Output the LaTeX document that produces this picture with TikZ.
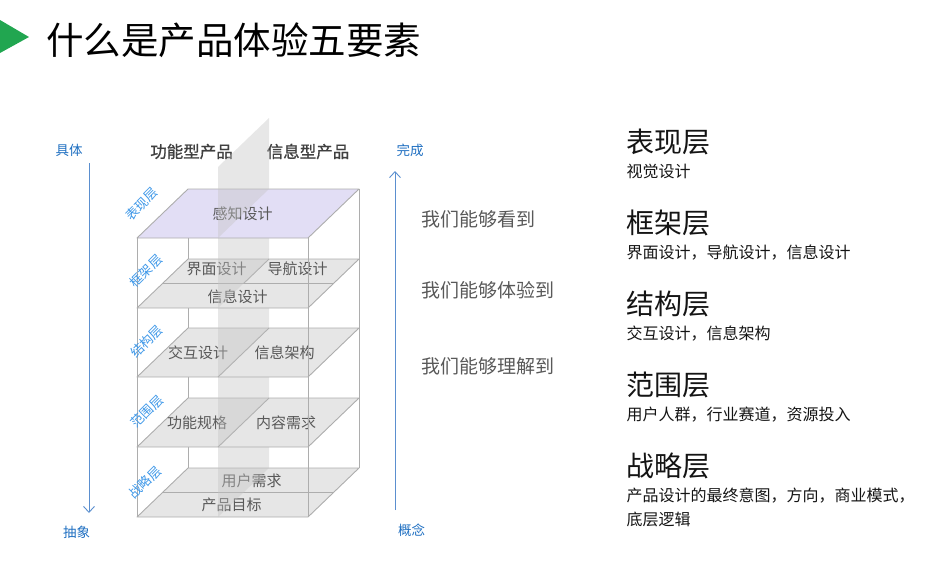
\documentclass[tikz,border=0pt]{standalone}
\usepackage{fontspec}
\setmainfont{Noto Sans CJK SC}
\usetikzlibrary{arrows.meta}
\definecolor{edgegray}{HTML}{ADADAD}
\definecolor{planegray}{HTML}{E6E6E6}
\definecolor{lav}{HTML}{E2DEF5}
\definecolor{bandgray}{HTML}{C4C4C4}
\definecolor{axisblue}{HTML}{5B8FCF}
\definecolor{darkblue}{HTML}{1F6FC1}
\definecolor{lblblue}{HTML}{3D97E8}
\definecolor{txtgray}{HTML}{595959}
\definecolor{hdrgray}{HTML}{404040}
\definecolor{titlegreen}{HTML}{21A650}
\tikzset{
  plane/.style={fill=planegray, draw=edgegray, line width=0.9pt, line join=round},
  topplane/.style={fill=lav, draw=edgegray, line width=0.9pt, line join=round},
  edge/.style={draw=edgegray, line width=0.9pt},
  band/.style={fill=bandgray, fill opacity=0.4, draw=none},
  ptext/.style={text=txtgray, inner sep=0pt, font=\fontsize{15}{15}\selectfont},
  hdr/.style={text=hdrgray, inner sep=0pt, font=\fontsize{16.5}{16.5}\selectfont\addfontfeatures{FakeBold=1}},
  lbl/.style={text=lblblue, inner sep=0pt, rotate=45, font=\fontsize{13}{13}\selectfont},
  axlbl/.style={text=darkblue, inner sep=0pt, font=\fontsize{13.5}{13.5}\selectfont},
  axisline/.style={draw=axisblue, line width=0.9pt, -{Straight Barb[length=6pt,width=11pt]}},
  midtext/.style={text=txtgray, inner sep=0pt, anchor=west, font=\fontsize{19}{19}\selectfont},
  rhead/.style={text=black!92, inner sep=0pt, anchor=west, font=\fontsize{28}{28}\selectfont},
  rsub/.style={text=black!92, inner sep=0pt, anchor=west, font=\fontsize{16}{16}\selectfont},
}
\begin{document}
\begin{tikzpicture}[x=1pt,y=-1pt]
\useasboundingbox (0,0) rectangle (948,587);
% title
\fill[titlegreen] (0,20) -- (29,37) -- (0,53) -- cycle;
\node[anchor=west, inner sep=0pt, font=\fontsize{37.5}{37.5}\selectfont] (title) at (46,40) {什么是产品体验五要素};

% axes
\coordinate (la1) at (89,163);
\coordinate (la2) at (89,513);
\draw[axisline] (la1) -- (la2);
\node[axlbl] (ju) at (69,150) {具体};
\node[axlbl] (chou) at (76.5,532.5) {抽象};
\coordinate (ra1) at (395,510);
\coordinate (ra2) at (395,171);
\draw[axisline] (ra1) -- (ra2);
\node[axlbl] (wan) at (410,150) {完成};
\node[axlbl] (gai) at (411.5,530) {概念};

% headers
\node[hdr] (h1) at (191.5,151.5) {功能型产品};
\node[hdr] (h2) at (308,151.5) {信息型产品};

% back verticals
\draw[edge] (188,189) -- (188,468);
\draw[edge] (359,189) -- (359,468);

% strategy layer (bottom)
\path[plane] (137,517) -- (308,517) -- (359,468) -- (188,468) -- cycle;
\draw[edge] (162.5,492.5) -- (333.5,492.5);
\node[ptext] (t9) at (251.5,481) {用户需求};
\node[ptext] (t10) at (231.5,505) {产品目标};
\path[band] (218,517) -- (269,468) -- (269,398) -- (218,447) -- cycle;

% scope layer
\path[plane] (137,447) -- (308,447) -- (359,398) -- (188,398) -- cycle;
\draw[edge] (218,447) -- (269,398);
\node[ptext] (t7) at (197,423) {功能规格};
\node[ptext] (t8) at (286,423) {内容需求};
\path[band] (218,447) -- (269,398) -- (269,328) -- (218,377) -- cycle;

% structure layer
\path[plane] (137,377) -- (308,377) -- (359,328) -- (188,328) -- cycle;
\draw[edge] (218,377) -- (269,328);
\node[ptext] (t5) at (198,352.5) {交互设计};
\node[ptext] (t6) at (284.5,352.5) {信息架构};
\path[band] (218,377) -- (269,328) -- (269,259) -- (218,308) -- cycle;

% skeleton layer
\path[plane] (137,308) -- (308,308) -- (359,259) -- (188,259) -- cycle;
\draw[edge] (162.5,283.5) -- (333.5,283.5);
\draw[edge] (243.5,283.5) -- (269,259);
\node[ptext] (t2) at (216.5,269) {界面设计};
\node[ptext] (t3) at (297.5,269) {导航设计};
\node[ptext] (t4) at (237.5,296.5) {信息设计};
\path[band] (218,308) -- (269,259) -- (269,189) -- (218,238) -- cycle;

% surface layer
\path[topplane] (137,238) -- (308,238) -- (359,189) -- (188,189) -- cycle;
\node[ptext] (t1) at (242.5,214) {感知设计};
\path[band] (218,238) -- (269,189) -- (269,118) -- (218,167) -- cycle;

% front verticals
\draw[edge] (137,238) -- (137,517);
\draw[edge] (308,238) -- (308,517);

% layer labels
\node[lbl] (l1) at (141.5,204) {表现层};
\node[lbl] (l2) at (146,271) {框架层};
\node[lbl] (l3) at (146.5,341.5) {结构层};
\node[lbl] (l4) at (147,411.5) {范围层};
\node[lbl] (l5) at (145,482.5) {战略层};

% middle texts
\node[midtext] (m1) at (421,219) {我们能够看到};
\node[midtext] (m2) at (421,290.5) {我们能够体验到};
\node[midtext] (m3) at (421,366) {我们能够理解到};

% right column
\node[rhead] (r1) at (626,141.5) {表现层};
\node[rsub] (s1) at (626.5,171.5) {视觉设计};
\node[rhead] (r2) at (626,222.5) {框架层};
\node[rsub] (s2) at (626.5,253) {界面设计，导航设计，信息设计};
\node[rhead] (r3) at (626,303.5) {结构层};
\node[rsub] (s3) at (626.5,333.5) {交互设计，信息架构};
\node[rhead] (r4) at (626,384.5) {范围层};
\node[rsub] (s4) at (626.5,415) {用户人群，行业赛道，资源投入};
\node[rhead] (r5) at (626,465.5) {战略层};
\node[rsub] (s5) at (626.5,496) {产品设计的最终意图，方向，商业模式，};
\node[rsub] (s6) at (626.5,519) {底层逻辑};
\end{tikzpicture}
\end{document}
